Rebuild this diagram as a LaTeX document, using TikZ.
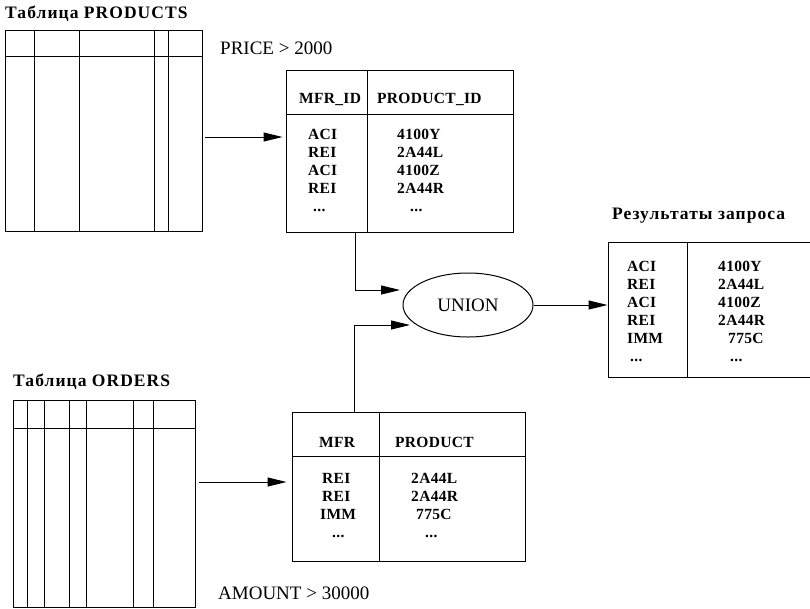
\documentclass[tikz,border=0pt]{standalone}
\usepackage{fontspec}
\setmainfont{Liberation Serif}
\usetikzlibrary{arrows.meta,shapes.geometric}
\begin{document}
\begin{tikzpicture}[x=1pt,y=-1pt,
  tbl/.style={draw,line width=1pt,inner sep=0pt,rectangle},
  ln/.style={line width=1pt},
  arr/.style={line width=1pt,-{Triangle[length=19pt,width=9pt]}},
  data/.style={anchor=base west,inner sep=0pt,font=\fontsize{15.5}{18}\selectfont\bfseries\addfontfeatures{LetterSpace=2}},
  ttl/.style={anchor=base west,inner sep=0pt,font=\fontsize{17.5}{20}\selectfont\bfseries\addfontfeatures{LetterSpace=6}},
  lbl/.style={anchor=base west,inner sep=0pt,font=\fontsize{19}{22}\selectfont}]
\useasboundingbox (0,0) rectangle (810,608);
\fill[white] (0,0) rectangle (810,608);

% ---- Products table
\node[ttl] (ttlprod) at (5,18) {Таблица PRODUCTS};
\node[tbl,minimum width=197pt,minimum height=201pt] (prod) at (103.5,130.5) {};
\draw[ln] (5,56) -- (202,56);
\foreach \x in {34,79,154,168} \draw[ln] (\x,30) -- (\x,231);

% ---- Orders table
\node[ttl] (ttlord) at (13,386) {Таблица ORDERS};
\node[tbl,minimum width=182pt,minimum height=207pt] (ord) at (104,503.5) {};
\draw[ln] (13,428) -- (195,428);
\foreach \x in {27,44,69,86,133,153} \draw[ln] (\x,400) -- (\x,607);

% ---- Result table 1 (PRICE > 2000)
\node[lbl] (price) at (220,54) {PRICE > 2000};
\node[tbl,minimum width=227pt,minimum height=162pt] (t1) at (399.5,151) {};
\draw[ln] (286,114) -- (513,114);
\draw[ln] (367,70) -- (367,232);
\node[data] (t1h1) at (299,103) {MFR\_ID};
\node[data] (t1h2) at (377,103) {PRODUCT\_ID};
\foreach \a/\b [count=\i] in {ACI/4100Y,REI/2A44L,ACI/4100Z,REI/2A44R}{
  \node[data] (t1l\i) at (308,121+18*\i) {\a};
  \node[data] (t1r\i) at (397,121+18*\i) {\b};
}
\node[data] (t1l5) at (313,211) {...};
\node[data] (t1r5) at (410,211) {...};

% ---- Result table 2 (AMOUNT > 30000)
\node[lbl] (amount) at (218,599) {AMOUNT > 30000};
\node[tbl,minimum width=233pt,minimum height=149pt] (t2) at (408.5,486.5) {};
\draw[ln] (292,456) -- (525,456);
\draw[ln] (379,412) -- (379,561);
\node[data] (t2h1) at (319,447) {MFR};
\node[data] (t2h2) at (395,447) {PRODUCT};
\node[data] (t2l1) at (322,483) {REI};
\node[data] (t2r1) at (411,483) {2A44L};
\node[data] (t2l2) at (322,501) {REI};
\node[data] (t2r2) at (411,501) {2A44R};
\node[data] (t2l3) at (320,519) {IMM};
\node[data] (t2r3) at (416,519) {775C};
\node[data] (t2l4) at (332,537) {...};
\node[data] (t2r4) at (425,537) {...};

% ---- Union
\node[draw,line width=1pt,ellipse,minimum width=130pt,minimum height=64pt,inner sep=0pt,
      font=\fontsize{19}{22}\selectfont] (union) at (468,305) {UNION};

% ---- Final result
\node[ttl] (ttlres) at (612,219) {Результаты запроса};
\node[tbl,minimum width=212pt,minimum height=135pt] (res) at (714,309.5) {};
\draw[ln] (687,242) -- (687,377);
\node[data] (rl1) at (627,271) {ACI};
\node[data] (rr1) at (718,271) {4100Y};
\node[data] (rl2) at (627,289) {REI};
\node[data] (rr2) at (718,289) {2A44L};
\node[data] (rl3) at (627,307) {ACI};
\node[data] (rr3) at (718,307) {4100Z};
\node[data] (rl4) at (627,325) {REI};
\node[data] (rr4) at (718,325) {2A44R};
\node[data] (rl5) at (627,343) {IMM};
\node[data] (rr5) at (728,343) {775C};
\node[data] (rl6) at (630,361) {...};
\node[data] (rr6) at (730,361) {...};

% ---- Connectors
\coordinate (p1) at (205,137);
\coordinate (p2) at (199,482);
\coordinate (c1) at (355,0);
\coordinate (c2) at (354,0);
\coordinate (u1) at (400,290);
\coordinate (u2) at (410,325);
\draw[arr,shorten >=3pt] (p1) -- (p1 -| t1.west);
\draw[arr,shorten >=5pt] (p2) -- (p2 -| t2.west);
\draw[arr] (t1.south -| c1) |- (u1);
\draw[arr] (t2.north -| c2) |- (u2);
\draw[arr] (union.east) -- (union.east -| res.west);
\end{tikzpicture}
\end{document}
